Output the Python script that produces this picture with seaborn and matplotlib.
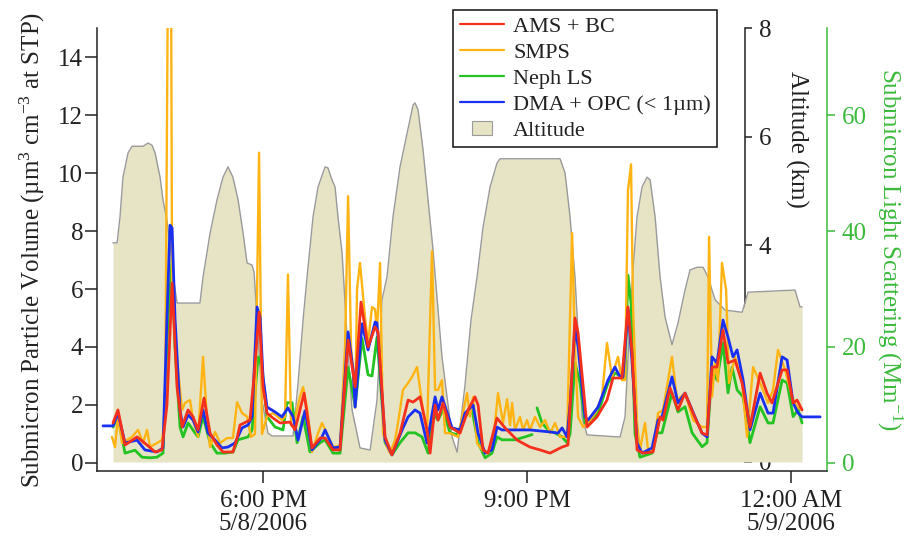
import numpy as np
import pandas as pd
import matplotlib
matplotlib.use("Agg")
import matplotlib.pyplot as plt
import seaborn as sns
from matplotlib.lines import Line2D
from matplotlib.patches import Patch, Rectangle
from matplotlib.legend_handler import HandlerPatch

# ---------------- data (time = minutes after 4:00 PM, 5/8/2006) ----------------
alt_time = [17.7, 20.5, 22.5, 24.5, 28.0, 30.7, 38.2, 41.6, 44.3, 46.4,
            49.8, 51.8, 54.5, 56.6, 58.6, 61.4, 77.0, 79.1, 83.9, 88.6,
            92.7, 96.1, 99.5, 103.0, 106.4, 109.1, 112.5, 113.9, 115.9, 119.3,
            123.4, 126.1, 140.5, 143.9, 147.3, 150.0, 154.1, 157.5, 162.3, 164.3,
            167.0, 169.1, 171.1, 173.9, 177.3, 180.7, 186.1, 193.0, 197.7, 201.1,
            204.5, 208.6, 213.4, 218.2, 222.3, 223.6, 225.7, 229.1, 232.5, 235.9,
            242.0, 248.9, 252.3, 257.7, 261.8, 265.9, 270.0, 274.8, 279.5, 281.6,
            322.5, 325.9, 329.3, 332.7, 335.4, 337.5, 340.9, 363.4, 366.8, 370.2,
            372.2, 375.0, 378.4, 381.8, 383.9, 387.3, 390.7, 394.1, 398.8, 402.9,
            407.7, 411.1, 415.9, 420.0, 423.4, 426.1, 428.2, 435.0, 446.6, 450.7,
            482.7, 486.1, 487.5]
alt_km = [4.04, 4.04, 4.52, 5.25, 5.70, 5.82, 5.82, 5.88, 5.84, 5.70,
          5.25, 4.83, 4.46, 4.00, 3.45, 2.93, 2.93, 3.41, 4.22, 4.83,
          5.25, 5.44, 5.25, 4.83, 4.22, 3.67, 3.63, 3.50, 2.62, 1.14,
          0.53, 0.48, 0.48, 1.46, 2.62, 3.41, 4.52, 5.07, 5.44, 5.42,
          5.20, 5.07, 4.52, 3.85, 2.30, 0.96, 0.26, 0.22, 1.14, 2.99,
          3.41, 4.52, 5.44, 6.06, 6.58, 6.62, 6.49, 5.75, 4.83, 3.91,
          1.94, 0.46, 0.18, 1.42, 2.62, 3.41, 4.33, 5.07, 5.51, 5.59,
          5.59, 5.33, 4.52, 3.41, 2.06, 0.83, 0.50, 0.46, 0.83, 2.67,
          3.54, 4.52, 5.07, 5.25, 5.20, 4.52, 3.41, 2.67, 2.16, 2.56,
          3.17, 3.54, 3.59, 3.59, 3.41, 3.17, 2.99, 2.80, 2.76, 3.13,
          3.17, 2.86, 2.86]

dma_time = [10.9, 17.7, 21.1, 25.9, 34.1, 39.5, 47.7, 51.8, 54.5, 56.6,
            58.0, 60.0, 63.4, 65.5, 68.9, 72.3, 75.7, 79.1, 82.5, 87.3,
            92.0, 96.1, 100.9, 105.7, 109.8, 112.5, 115.9, 118.0, 120.0, 122.7,
            128.2, 132.9, 137.0, 140.5, 143.9, 148.6, 153.4, 160.2, 162.3, 167.7,
            172.5, 178.0, 181.4, 182.8, 187.5, 191.6, 196.4, 197.7, 203.2, 207.9,
            214.8, 218.9, 223.6, 227.0, 231.8, 237.3, 239.3, 242.0, 248.9, 254.3,
            257.7, 263.2, 266.6, 271.4, 276.1, 279.5, 282.9, 302.0, 315.7, 321.1,
            323.9, 327.3, 329.3, 332.7, 334.8, 339.5, 341.6, 348.4, 355.2, 359.9,
            363.4, 365.4, 368.8, 371.6, 375.0, 378.4, 385.2, 389.3, 392.0, 398.8,
            402.9, 407.7, 414.5, 419.3, 422.7, 426.1, 429.5, 433.6, 437.0, 440.4,
            443.2, 447.3, 452.0, 458.9, 464.3, 467.7, 473.9, 477.3, 481.4, 484.8,
            487.5, 499.8]
dma_opc = [1.28, 1.28, 1.72, 0.69, 0.79, 0.45, 0.38, 0.52, 5.0, 8.2,
           8.1, 5.0, 1.8, 1.24, 1.66, 1.48, 1.07, 1.83, 1.03, 0.79,
           0.52, 0.55, 0.69, 1.21, 1.31, 1.59, 5.38, 5.03, 2.97, 1.93,
           1.76, 1.59, 1.9, 1.59, 0.79, 1.8, 0.45, 0.9, 1.14, 0.52,
           0.55, 4.52, 3.2, 1.93, 4.8, 3.9, 4.86, 4.83, 0.79, 0.28,
           1.14, 1.59, 1.83, 1.72, 0.69, 2.28, 1.83, 2.28, 1.21, 1.14,
           1.72, 2.0, 1.03, 0.34, 0.45, 1.24, 1.14, 1.14, 1.07, 1.03,
           1.21, 0.9, 2.0, 4.7, 4.0, 1.59, 1.48, 1.93, 2.86, 3.31,
           2.97, 2.97, 5.3, 3.5, 0.69, 0.34, 0.52, 1.48, 1.59, 2.97,
           2.07, 2.41, 1.59, 1.03, 0.9, 3.66, 3.45, 4.93, 4.34, 3.66,
           3.9, 2.86, 1.14, 2.41, 1.72, 1.72, 3.66, 3.55, 2.07, 1.72,
           1.59, 1.59]

ams_time = [17.7, 21.1, 25.9, 34.1, 40.9, 46.4, 51.1, 54.5, 58.0, 61.4,
            64.8, 68.9, 72.3, 75.7, 79.8, 83.9, 88.6, 92.7, 99.5, 102.3,
            104.3, 111.1, 113.9, 117.3, 120.0, 122.7, 126.8, 131.6, 138.4, 141.8,
            148.0, 153.4, 158.9, 162.3, 167.7, 172.5, 178.0, 182.8, 186.8, 191.6,
            196.4, 198.4, 203.2, 207.9, 213.4, 218.9, 222.3, 227.0, 231.8, 233.9,
            237.3, 239.3, 242.7, 247.5, 254.3, 259.8, 264.5, 266.6, 270.0, 273.4,
            279.5, 285.0, 293.2, 302.0, 308.9, 315.7, 323.9, 327.9, 332.7, 334.8,
            340.9, 347.7, 354.5, 358.6, 364.7, 368.8, 371.6, 375.0, 379.1, 385.9,
            390.7, 392.7, 397.5, 402.9, 407.7, 413.2, 419.3, 422.7, 426.1, 429.5,
            433.6, 437.0, 441.8, 446.6, 452.0, 458.9, 463.6, 467.0, 473.9, 477.3,
            481.4, 484.1, 487.5]
ams_bc = [1.38, 1.83, 0.62, 0.9, 0.62, 0.38, 0.45, 2.0, 6.2, 2.6,
          1.24, 1.83, 1.59, 1.14, 2.24, 1.03, 0.62, 0.38, 0.38, 0.86,
          1.31, 1.48, 3.0, 5.2, 2.62, 1.72, 1.55, 1.38, 1.41, 1.14,
          2.41, 0.52, 0.86, 0.86, 0.45, 0.45, 4.24, 2.62, 5.55, 4.0,
          4.69, 4.52, 0.9, 0.28, 1.03, 2.17, 2.1, 2.28, 1.14, 0.34,
          2.0, 1.48, 2.07, 1.24, 1.03, 1.83, 2.28, 2.0, 0.45, 0.34,
          1.55, 1.21, 0.79, 0.55, 0.45, 0.34, 0.55, 0.62, 5.0, 4.48,
          1.24, 1.59, 2.17, 2.93, 2.93, 5.38, 3.79, 0.45, 0.34, 0.38,
          1.59, 1.48, 2.59, 1.83, 2.41, 1.72, 1.03, 0.97, 3.31, 3.31,
          4.59, 3.45, 3.55, 2.76, 1.24, 3.1, 2.41, 2.07, 3.21, 3.21,
          2.07, 2.17, 1.83]

smps_time = [17.0, 19.1, 21.1, 23.9, 30.7, 34.8, 38.2, 40.9, 43.0, 47.7,
             51.1, 53.2, 55.2, 57.3, 58.0, 61.4, 64.8, 66.8, 70.2, 72.3,
             75.7, 79.1, 81.8, 83.9, 87.3, 90.7, 95.5, 99.5, 102.3, 105.7,
             109.1, 111.8, 114.5, 117.3, 119.3, 122.7, 126.8, 132.9, 135.0, 137.0,
             139.1, 140.5, 145.2, 147.3, 150.0, 153.4, 157.5, 160.2, 163.6, 167.7,
             172.5, 175.9, 178.0, 180.0, 181.4, 182.8, 184.1, 186.1, 189.5, 191.6,
             194.3, 196.4, 197.7, 199.8, 201.8, 204.5, 206.6, 210.0, 212.0, 215.4,
             218.9, 221.6, 225.0, 228.4, 231.8, 235.2, 237.3, 239.3, 242.0, 244.1,
             247.5, 252.9, 255.7, 259.1, 261.1, 263.2, 265.9, 269.3, 273.4, 276.8,
             280.2, 283.6, 286.4, 288.4, 289.8, 291.8, 295.2, 297.3, 300.0, 302.0,
             305.4, 308.9, 312.3, 315.7, 319.1, 322.5, 327.3, 330.7, 332.7, 334.8,
             338.2, 341.6, 346.4, 351.1, 354.5, 357.9, 362.0, 364.7, 366.8, 368.8,
             370.9, 372.2, 375.0, 377.0, 380.4, 382.5, 385.9, 389.3, 392.7, 398.8,
             402.3, 407.7, 413.2, 419.3, 422.7, 424.1, 426.1, 428.2, 430.2, 432.9,
             435.7, 437.7, 441.8, 446.6, 450.0, 454.1, 458.9, 464.3, 467.7, 471.1,
             475.9, 480.7, 484.1, 487.5]
smps = [0.9, 0.55, 1.59, 0.69, 0.9, 1.14, 0.69, 1.14, 0.55, 0.69,
        0.79, 1.5, 17.0, 17.0, 6.0, 3.55, 1.83, 2.07, 2.17, 1.5,
        0.9, 3.66, 1.5, 0.55, 1.07, 0.69, 0.86, 0.86, 2.1, 1.72,
        1.6, 0.9, 1.0, 10.7, 1.0, 1.6, 1.72, 1.48, 1.6, 6.5,
        1.3, 1.24, 2.28, 2.62, 1.9, 0.38, 1.03, 1.38, 1.0, 0.55,
        0.6, 4.0, 9.2, 4.0, 3.2, 1.9, 6.0, 6.9, 5.03, 4.14,
        5.38, 5.3, 4.5, 6.9, 1.03, 0.55, 0.34, 0.79, 1.38, 2.52,
        2.76, 2.97, 3.31, 2.07, 1.03, 7.3, 2.52, 2.52, 2.86, 1.03,
        1.03, 0.9, 1.59, 2.41, 1.6, 2.28, 0.69, 0.45, 0.34, 0.69,
        2.41, 1.38, 2.2, 1.3, 2.07, 1.14, 1.59, 1.14, 1.48, 1.14,
        1.59, 1.24, 1.48, 1.03, 1.38, 0.9, 0.9, 7.93, 3.9, 1.59,
        1.24, 1.38, 1.72, 2.28, 4.14, 2.97, 3.66, 2.86, 2.86, 9.4,
        10.3, 5.5, 1.38, 0.45, 1.38, 0.45, 0.45, 1.72, 1.83, 3.66,
        2.17, 2.41, 1.48, 1.24, 1.24, 7.8, 2.28, 3.45, 2.8, 6.9,
        5.97, 2.76, 3.66, 2.76, 0.9, 3.31, 2.76, 2.07, 2.52, 3.9,
        3.21, 2.28, 1.93, 1.83]

# Nephelometer submicron light scattering (Mm^-1); two segments with a data gap
neph_time = [17.7, 21.1, 25.9, 32.7, 37.5, 43.0, 47.7, 51.8, 55.2, 58.0,
             60.0, 63.4, 65.5, 68.9, 73.6, 75.7, 79.1, 83.9, 88.6, 94.1,
             99.5, 103.0, 109.8, 112.5, 116.6, 119.3, 122.7, 128.2, 133.6, 136.4,
             139.8, 143.2, 147.3, 152.0, 158.9, 162.3, 167.7, 172.5, 178.0, 182.8,
             187.5, 191.6, 194.3, 197.7, 203.2, 207.9, 213.4, 218.9, 223.6, 228.4,
             232.5, 235.9, 239.3, 242.7, 247.5, 252.3, 257.7, 262.5, 266.6, 271.4,
             276.1, 279.5, 282.9, 291.8, 298.6, 303.4,
             306.8, 310.2, 314.3, 319.1, 323.9, 327.3, 329.3, 332.7, 336.1, 339.5,
             341.6, 348.4, 355.2, 359.9, 364.7, 366.8, 368.8, 370.9, 373.6, 377.0,
             385.2, 388.6, 392.0, 398.8, 402.9, 407.7, 412.5, 419.3, 422.7, 426.1,
             429.5, 433.6, 437.0, 439.8, 443.2, 447.3, 452.0, 458.9, 464.3, 467.7,
             473.9, 477.3, 481.4, 484.8, 487.5]
neph_ls = [6.2, 8.0, 1.7, 2.2, 1.0, 0.9, 1.0, 1.7, 25.0, 35.0,
           20.0, 6.2, 4.5, 6.9, 5.2, 4.5, 8.0, 3.5, 1.7, 1.7,
           1.9, 4.0, 4.5, 5.7, 18.3, 16.5, 8.0, 6.2, 5.7, 10.4,
           10.4, 3.5, 8.0, 1.9, 3.5, 4.0, 1.7, 1.7, 16.5, 9.7,
           21.5, 15.2, 15.0, 21.7, 3.5, 1.4, 3.5, 5.2, 5.2, 4.5,
           1.7, 8.6, 7.4, 9.2, 5.2, 4.9, 8.0, 9.2, 3.5, 0.9,
           1.7, 4.5, 4.0, 4.0, 4.5, 4.9,
           9.5, 6.9, 5.7, 5.2, 4.5, 3.5, 5.0, 17.3, 13.8, 6.9,
           6.9, 8.6, 13.8, 15.5, 14.9, 14.5, 32.4, 27.5, 5.0, 1.0,
           1.7, 5.2, 5.2, 12.1, 8.8, 9.7, 5.2, 2.8, 3.5, 16.1,
           14.3, 20.7, 12.1, 16.5, 12.6, 11.4, 3.5, 9.7, 6.9, 6.9,
           14.3, 13.8, 8.0, 9.2, 6.9]
neph_segment = [1] * 66 + [2] * 45

x_ticks = [120, 300, 480]
x_ticklabels = ["6:00 PM\n5/8/2006", "9:00 PM", "12:00 AM\n5/9/2006"]
legend_labels = ["AMS + BC", "SMPS", "Neph LS", "DMA + OPC (< 1\u00b5m)", "Altitude"]

# ---------------- style ----------------
RED = "#f4301c"
ORANGE = "#ffb414"
GREEN = "#22c322"
BLUE = "#1a30f0"
FILL = "#e6e4c4"
EDGE = "#9a9a9a"
AXGREEN = "#3cba3c"

sns.set_style("ticks")
plt.rcParams["font.family"] = ["Liberation Serif", "DejaVu Serif"]
plt.rcParams["mathtext.fontset"] = "custom"
plt.rcParams["mathtext.rm"] = "Liberation Serif"
plt.rcParams["mathtext.it"] = "Liberation Serif:italic"
plt.rcParams["mathtext.default"] = "regular"

FS = 18

fig = plt.figure(figsize=(9.09, 5.44), dpi=100)
ax = fig.add_axes([0.1067, 0.1342, 0.8031, 0.8143])
ax_alt = ax.twinx()
ax_g = ax.twinx()

ax_alt.set_zorder(1)
ax_g.set_zorder(2)
ax.set_zorder(3)
for a in (ax, ax_alt, ax_g):
    a.patch.set_visible(False)

# ---------------- altitude (shaded) ----------------
ax_alt.fill_between(alt_time, alt_km, 0, color=FILL, linewidth=0, zorder=3)
sns.lineplot(x=alt_time, y=alt_km, ax=ax_alt, color=EDGE, linewidth=1.0,
             estimator=None, zorder=3.1)

# ---------------- nephelometer on its own axis ----------------
df_neph = pd.DataFrame({"t": neph_time, "v": neph_ls, "seg": neph_segment})
sns.lineplot(data=df_neph, x="t", y="v", units="seg", estimator=None, ax=ax_g,
             color=GREEN, linewidth=2.0, legend=False)

# ---------------- volume series ----------------
df_smps = pd.DataFrame({"t": smps_time, "v": smps})
df_dma = pd.DataFrame({"t": dma_time, "v": dma_opc})
df_ams = pd.DataFrame({"t": ams_time, "v": ams_bc})
sns.lineplot(data=df_smps, x="t", y="v", ax=ax, color=ORANGE, linewidth=1.7,
             estimator=None, legend=False)
sns.lineplot(data=df_dma, x="t", y="v", ax=ax, color=BLUE, linewidth=2.0,
             estimator=None, legend=False)
sns.lineplot(data=df_ams, x="t", y="v", ax=ax, color=RED, linewidth=2.0,
             estimator=None, legend=False)

# ---------------- main axis ----------------
ax.set_xlim(6.8, 504.5)
ax.set_ylim(-0.276, 15)
ax.set_yticks(range(0, 15, 2))
ax.set_xticks(x_ticks)
ax.set_xticklabels(x_ticklabels, linespacing=1.05)
ax.tick_params(axis="both", direction="out", length=8.5, width=1.1,
               labelsize=FS, color="#222222", labelcolor="#222222")
ax.tick_params(axis="y", pad=1.5)
ax.tick_params(axis="x", pad=5)
for s in ("top", "right"):
    ax.spines[s].set_visible(False)
for s in ("left", "bottom"):
    ax.spines[s].set_linewidth(1.1)
    ax.spines[s].set_color("#222222")
ax.set_xlabel("")
ax.set_ylabel("Submicron Particle Volume (\u00b5m$^{3}$ cm$^{-3}$ at STP)",
              fontsize=FS, color="#222222")
ax.yaxis.set_label_coords(-0.069, 0.5)

# ---------------- altitude axis ----------------
ax_alt.set_ylim(-0.166, 8)
ax_alt.set_yticks([0, 2, 4, 6, 8])
for s in ("top", "left", "bottom"):
    ax_alt.spines[s].set_visible(False)
ax_alt.spines["right"].set_position(("axes", 0.8877))
ax_alt.spines["right"].set_bounds(0, 8)
ax_alt.spines["right"].set_linewidth(1.1)
ax_alt.spines["right"].set_color("#222222")
ax_alt.tick_params(axis="y", direction="out", length=5, width=1.1, pad=5,
                   labelsize=FS, color="#222222", labelcolor="#222222")
ax_alt.set_xlabel("")
ax_alt.set_ylabel("Altitude (km)", fontsize=FS, rotation=-90, color="#222222",
                  va="center", ha="center", rotation_mode="anchor")
ax_alt.yaxis.set_label_coords(0.9589, 0.749)

# ---------------- scattering axis ----------------
ax_g.set_ylim(-1.38, 75)
ax_g.set_yticks([0, 20, 40, 60])
for s in ("top", "left", "bottom"):
    ax_g.spines[s].set_visible(False)
ax_g.spines["right"].set_linewidth(1.1)
ax_g.spines["right"].set_color(AXGREEN)
ax_g.tick_params(axis="y", direction="out", length=5.5, width=1.1, pad=5,
                 labelsize=FS, color=AXGREEN, labelcolor=AXGREEN)
ax_g.set_xlabel("")
ax_g.set_ylabel("Submicron Light Scattering (Mm$^{-1}$)", fontsize=FS,
                rotation=-90, color=AXGREEN, va="center", ha="center",
                rotation_mode="anchor")
ax_g.yaxis.set_label_coords(1.086, 0.5)

# ---------------- legend ----------------
def small_square(legend, orig_handle, xdescent, ydescent, width, height, fontsize):
    w, h = 14.0, 9.5
    return Rectangle((-xdescent + (width - w) / 2, -ydescent + (height - h) / 2), w, h)

handles = [Line2D([], [], color=RED, lw=1.6),
           Line2D([], [], color=ORANGE, lw=1.6),
           Line2D([], [], color=GREEN, lw=1.6),
           Line2D([], [], color=BLUE, lw=1.6),
           Patch(facecolor=FILL, edgecolor=EDGE, linewidth=0.8)]
leg = ax.legend(handles, legend_labels, loc="upper left",
                bbox_to_anchor=(0.4877, 1.0406), fontsize=16, frameon=True,
                fancybox=False, edgecolor="#111111", framealpha=1,
                handlelength=2.0, handletextpad=0.4, labelspacing=0.24,
                borderpad=0.3, borderaxespad=0,
                handler_map={Patch: HandlerPatch(patch_func=small_square)})
leg.get_frame().set_linewidth(1.1)
for t in leg.get_texts():
    t.set_color("#222222")

fig.savefig("out.png", dpi=100, facecolor="white")
